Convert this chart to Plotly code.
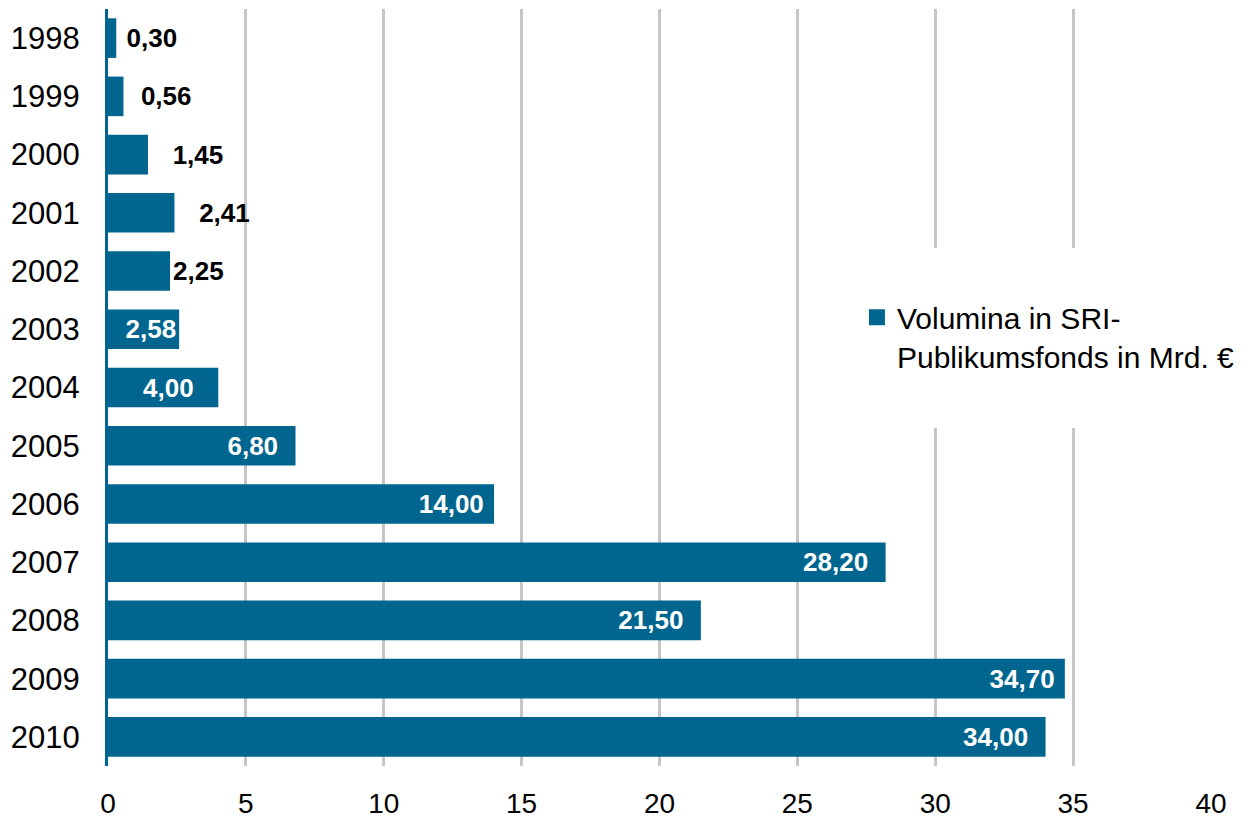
import plotly.graph_objects as go

years = ["1998", "1999", "2000", "2001", "2002", "2003", "2004",
         "2005", "2006", "2007", "2008", "2009", "2010"]
volumes = [0.30, 0.56, 1.45, 2.41, 2.25, 2.58, 4.00,
           6.80, 14.00, 28.20, 21.50, 34.70, 34.00]
# label placement: True = outside (black), False = inside (white)
label_outside = [True, True, True, True, True, False, False,
                 False, False, False, False, False, False]
# extra spacing (in non-breaking spaces) between bar end and its label
label_pad = [1, 2, 3, 3, 0, 0, 3, 2, 1, 2, 2, 1, 2]

NBSP = "\u00a0"
labels = []
for v, o, p in zip(volumes, label_outside, label_pad):
    s = f"{v:.2f}".replace(".", ",")
    labels.append(NBSP * p + s if o else s + NBSP * p)
positions = ["outside" if o else "inside" for o in label_outside]
label_colors = ["black" if o else "white" for o in label_outside]

series_name = "Volumina in SRI-<br>Publikumsfonds in Mrd. €"
TEAL = "#00668F"
FONT = "Liberation Sans, Arial, sans-serif"

fig = go.Figure()
fig.add_trace(go.Bar(
    x=volumes, y=years, orientation="h",
    marker=dict(color=TEAL, line=dict(width=0)),
    text=labels, textposition=positions,
    insidetextanchor="end", constraintext="none", cliponaxis=False,
    textangle=0,
    textfont=dict(family=FONT, size=26, color=label_colors, weight="bold"),
    showlegend=False, hoverinfo="x+y",
))
fig.add_trace(go.Scatter(
    x=[None], y=[None], mode="markers", name=series_name,
    marker=dict(symbol="square", size=17, color=TEAL),
    showlegend=True,
))

# white legend background box covering gridlines
fig.add_shape(type="rect", xref="paper", yref="paper",
              x0=0.672, x1=1.06, y0=0.4465, y1=0.6843,
              fillcolor="white", line=dict(width=0), layer="above")

fig.update_layout(
    width=1257, height=819,
    margin=dict(l=108, r=46, t=9, b=53),
    paper_bgcolor="white", plot_bgcolor="white",
    bargap=0.32,
    font=dict(family=FONT, size=29, color="black"),
    legend=dict(x=0.679, y=0.627, xanchor="left", yanchor="top",
                bgcolor="rgba(0,0,0,0)", font=dict(size=30, family=FONT),
                valign="top", itemsizing="trace"),
)
fig.update_xaxes(
    range=[0, 40], dtick=5, tick0=0,
    showgrid=True, gridcolor="#C6C6C6", gridwidth=2.5,
    zeroline=False, showline=False, ticks="",
    tickfont=dict(size=28, family=FONT, color="black"),
    ticklabelstandoff=18, automargin=False,
)
fig.update_yaxes(
    type="category", categoryorder="array", categoryarray=years,
    range=[12.5, -0.5],
    showgrid=False, zeroline=False,
    showline=True, linecolor=TEAL, linewidth=3,
    ticks="", tickfont=dict(size=31, family=FONT, color="black"),
    ticklabelstandoff=19, automargin=False,
)

fig.write_html("out.html", config={"displayModeBar": False},
               post_script="document.body.style.margin='0';")
